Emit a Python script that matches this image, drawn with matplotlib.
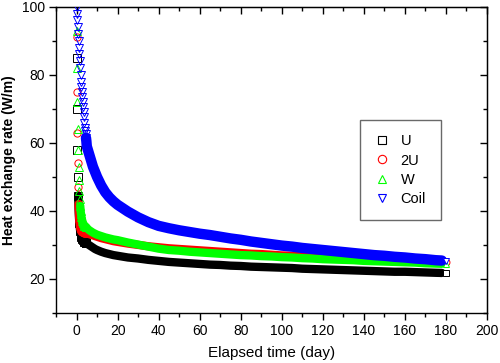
import matplotlib
matplotlib.use("Agg")
import matplotlib.pyplot as plt
from matplotlib.ticker import MultipleLocator

plt.rcParams['font.family'] = ['Liberation Sans', 'DejaVu Sans']

# ---- data ----
t_early = [0.0, 0.2, 0.4, 0.6, 0.8, 1.0, 1.2, 1.4, 1.6, 1.8, 2.0, 2.2, 2.4, 2.6, 2.8,
           3.0, 3.2, 3.4, 3.6, 3.8, 4.0, 4.2, 4.4, 4.6, 4.8]
t_tail = [5, 6, 7, 8, 9, 10, 12, 14, 16, 18, 20, 25, 30, 35, 40, 45, 50, 55, 60, 65,
          70, 75, 80, 85, 90, 95, 100, 105, 110, 115, 120, 125, 130, 135, 140, 145,
          150, 155, 160, 165, 170, 175, 178, 180]

u_early = [85, 70, 58, 50, 44.5, 40.5, 38, 36.3, 35, 34, 33.3, 32.8, 32.4, 32.1, 31.8,
           31.6, 31.4, 31.2, 31.1, 31.0, 30.9, 30.8, 30.7, 30.6, 30.55]
u_tail = [30.5, 30.0, 29.6, 29.2, 28.8, 28.5, 28.0, 27.6, 27.3, 27.0, 26.8, 26.3, 26.0,
          25.6, 25.3, 25.0, 24.8, 24.6, 24.4, 24.2, 24.1, 23.9, 23.8, 23.6, 23.5, 23.4,
          23.3, 23.2, 23.0, 22.9, 22.8, 22.7, 22.6, 22.5, 22.4, 22.3, 22.2, 22.1, 22.1,
          22.0, 21.9, 21.8, 21.75, 21.7]

u2_early = [91, 75, 63, 54, 47, 42, 39, 37, 35.8, 35, 34.5, 34.2, 34.0, 33.9, 33.8,
            33.75, 33.7, 33.65, 33.6, 33.55, 33.5, 33.5, 33.45, 33.45, 33.4]
u2_tail = [33.4, 33.2, 33.0, 32.8, 32.6, 32.4, 32.0, 31.7, 31.4, 31.1, 30.9, 30.4, 30.0,
           29.6, 29.3, 29.0, 28.8, 28.6, 28.4, 28.2, 28.0, 27.8, 27.6, 27.4, 27.3, 27.1,
           26.9, 26.8, 26.6, 26.5, 26.3, 26.2, 26.1, 26.0, 25.8, 25.7, 25.6, 25.5, 25.4,
           25.3, 25.1, 25.0, 24.95, 24.9]

w_early = [93, 82, 72, 64, 58, 53, 49, 46, 43.5, 41.5, 40, 39, 38.2, 37.6, 37.1, 36.7,
           36.4, 36.1, 35.9, 35.7, 35.6, 35.5, 35.4, 35.3, 35.2]
w_tail = [35.0, 34.4, 34.0, 33.6, 33.3, 33.0, 32.6, 32.2, 31.9, 31.6, 31.4, 30.7, 30.1,
          29.5, 28.9, 28.5, 28.3, 28.0, 27.8, 27.6, 27.4, 27.2, 27.0, 26.9, 26.7, 26.6,
          26.4, 26.3, 26.1, 26.0, 25.8, 25.7, 25.6, 25.5, 25.3, 25.2, 25.1, 25.0, 24.9,
          24.8, 24.6, 24.5, 24.45, 24.4]

coil_early = [100, 98, 96, 94, 92, 90, 88, 86, 84, 82, 80, 78, 76.5, 75, 73.5, 72, 70.5,
              69, 67.5, 66, 64.5, 63.5, 62.5, 61.5, 60.5]
coil_tail = [59, 57, 55, 53, 51.5, 50, 47.5, 45.5, 44.0, 42.8, 41.8, 39.8, 38.1, 36.7,
             35.6, 34.9, 34.3, 33.8, 33.3, 32.9, 32.4, 31.9, 31.5, 31.0, 30.6, 30.2, 29.8,
             29.5, 29.1, 28.8, 28.5, 28.2, 27.9, 27.6, 27.3, 27.0, 26.8, 26.5, 26.3, 26.0,
             25.8, 25.5, 25.4, 25.3]

labels = ['U', '2U', 'W', 'Coil']
colors = ['black', 'red', '#00ff00', 'blue']
markers = ['s', 'o', '^', 'v']
series = [(u_early, u_tail), (u2_early, u2_tail), (w_early, w_tail), (coil_early, coil_tail)]
band_widths = [6.0, 6.0, 6.0, 7.5]
band_start = [4, 5, 9, 23]   # index in early data where the solid band begins

fig = plt.figure(figsize=(5.0, 3.63), dpi=100)
ax = fig.add_axes([0.112, 0.138, 0.862, 0.843])

handles = []
for i, ((ye, yt), lab, c, m, bw, bs) in enumerate(
        zip(series, labels, colors, markers, band_widths, band_start)):
    z = 2 + i
    # dense band (overlapping markers look solid)
    ax.plot(t_early[bs:] + t_tail[:-1], ye[bs:] + yt[:-1], color=c, lw=bw,
            solid_capstyle='round', solid_joinstyle='round', zorder=z)
    # hollow markers of the first hours
    ax.plot(t_early, ye, linestyle='none', marker=m, ms=5.2,
            mfc='none', mec=c, mew=0.7, zorder=z)
    # last point
    ax.plot(t_tail[-1:], yt[-1:], linestyle='none', marker=m, ms=5.0,
            mfc='white', mec=c, mew=0.7, zorder=z + 0.5)
    h, = ax.plot([], [], linestyle='none', marker=m, ms=6, mfc='none', mec=c, mew=0.8,
                 label=lab)
    handles.append(h)

ax.set_xlim(-10, 200)
ax.set_ylim(10, 100)
ax.xaxis.set_major_locator(MultipleLocator(20))
ax.xaxis.set_minor_locator(MultipleLocator(10))
ax.yaxis.set_major_locator(MultipleLocator(20))
ax.yaxis.set_minor_locator(MultipleLocator(10))
ax.set_yticks([20, 40, 60, 80, 100])

ax.tick_params(axis='both', which='major', direction='out', length=5, width=1,
               labelsize=10, top=False, right=False, pad=3)
ax.tick_params(axis='both', which='minor', direction='out', length=3, width=1,
               top=False, right=False)

# inward ticks on top and right
axt = ax.secondary_xaxis('top')
axt.xaxis.set_major_locator(MultipleLocator(20))
axt.xaxis.set_minor_locator(MultipleLocator(10))
axt.tick_params(which='major', direction='in', length=5, width=1, labeltop=False)
axt.tick_params(which='minor', direction='in', length=3, width=1)
axr = ax.secondary_yaxis('right')
axr.yaxis.set_major_locator(MultipleLocator(20))
axr.yaxis.set_minor_locator(MultipleLocator(10))
axr.tick_params(which='major', direction='in', length=5, width=1, labelright=False)
axr.tick_params(which='minor', direction='in', length=3, width=1)

for s in ax.spines.values():
    s.set_linewidth(1)

ax.set_xlabel('Elapsed time (day)', fontsize=11, labelpad=6)
ax.set_ylabel('Heat exchange rate (W/m)', fontsize=10, fontweight='bold', labelpad=4)

leg = ax.legend(handles=handles, loc='upper left', bbox_to_anchor=(0.705, 0.631),
                fontsize=10.5, frameon=True, fancybox=False, shadow=False,
                labelspacing=0.35, handletextpad=0.7, borderpad=1.0,
                handlelength=1.1, borderaxespad=0)
leg.get_frame().set_edgecolor('#444444')
leg.get_frame().set_linewidth(1.0)

fig.savefig('out.png', dpi=100)
